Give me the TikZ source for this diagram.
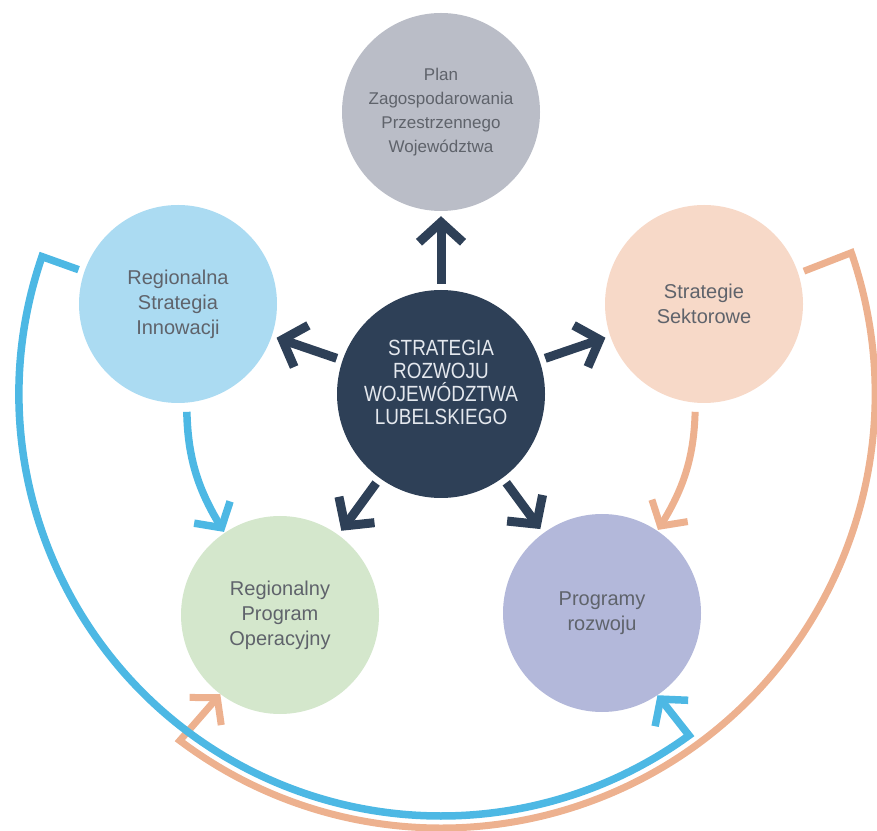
\documentclass[tikz,border=0pt]{standalone}
\usepackage{fontspec}
\setmainfont{Liberation Sans}
\newfontfamily\srodekfont[FakeStretch=0.86]{Liberation Sans}
\usetikzlibrary{arrows.meta,calc}

\definecolor{granat}{HTML}{2E4057}
\definecolor{szary}{HTML}{BABDC7}
\definecolor{niebjasny}{HTML}{ABDBF2}
\definecolor{brzjasny}{HTML}{F7D9C8}
\definecolor{zielony}{HTML}{D4E7CC}
\definecolor{fiolet}{HTML}{B3B8DA}
\definecolor{niebieski}{HTML}{4DB8E4}
\definecolor{brzoskwinia}{HTML}{EDB18F}
\definecolor{tekst}{HTML}{5F636B}
\definecolor{jasny}{HTML}{E4E8EE}

\begin{document}
\begin{tikzpicture}[
	x=1pt, y=1pt,
	font=\fontsize{20}{25}\selectfont,
	kolo/.style={
		circle,
		minimum size=198pt,
		inner sep=0pt,
		align=center,
		text=tekst,
	},
	glowne/.style={
		circle,
		minimum size=208pt,
		inner sep=0pt,
		align=center,
		fill=granat,
		text=jasny,
		font=\srodekfont\fontsize{22}{23}\selectfont,
	},
	strz/.style={granat, line width=9pt, -{Straight Barb[length=20pt,width=44pt]}, shorten <=6pt, shorten >=5pt},
	niebieska/.style={niebieski, line width=7.5pt, -{Straight Barb[length=18pt,width=42pt]}},
	brzoskwiniowa/.style={brzoskwinia, line width=7pt, -{Straight Barb[length=18pt,width=42pt]}},
]
\useasboundingbox (0,0) rectangle (877,830);

% --- Koła ---
\node[glowne] (srw) at (441,436) {STRATEGIA\\ROZWOJU\\WOJEWÓDZTWA\\LUBELSKIEGO\\\mbox{}};
\node[kolo, fill=szary, font=\fontsize{17}{24}\selectfont] (pzp) at (441,718) {Plan\\Zagospodarowania\\Przestrzennego\\Województwa};
\node[kolo, fill=niebjasny] (rsi) at (178,526) {Regionalna\\Strategia\\Innowacji};
\node[kolo, fill=brzjasny] (ss) at (704,526) {Strategie\\Sektorowe};
\node[kolo, fill=zielony] (rpo) at (280,215) {Regionalny\\Program\\Operacyjny};
\node[kolo, fill=fiolet] (pr) at (602,217) {Programy\\rozwoju};

% --- Strzałki ze środka ---
\foreach \cel in {pzp,rsi,ss,rpo,pr}
	\draw[strz] (srw) -- (\cel);

% --- Krótkie strzałki w dół ---
\draw[niebieska, shorten <=9pt, shorten >=1pt] (rsi.-85) to[bend right=15] (rpo.124);
\draw[brzoskwiniowa, shorten <=9pt, shorten >=1pt] (ss.-95) to[bend left=15] (pr.56);

% --- Duże łuki wokół ---
\draw[brzoskwiniowa, shorten <=6pt] (ss.18) -- ($(srw.center)+(19:434)$)
	arc[start angle=19, end angle=-127, radius=434] -- (rpo.-127);
\draw[niebieska, shorten <=6pt] (rsi.161) -- ($(srw.center)+(161:422)$)
	arc[start angle=161, end angle=306, radius=422] -- (pr.-56);

\end{tikzpicture}
\end{document}
